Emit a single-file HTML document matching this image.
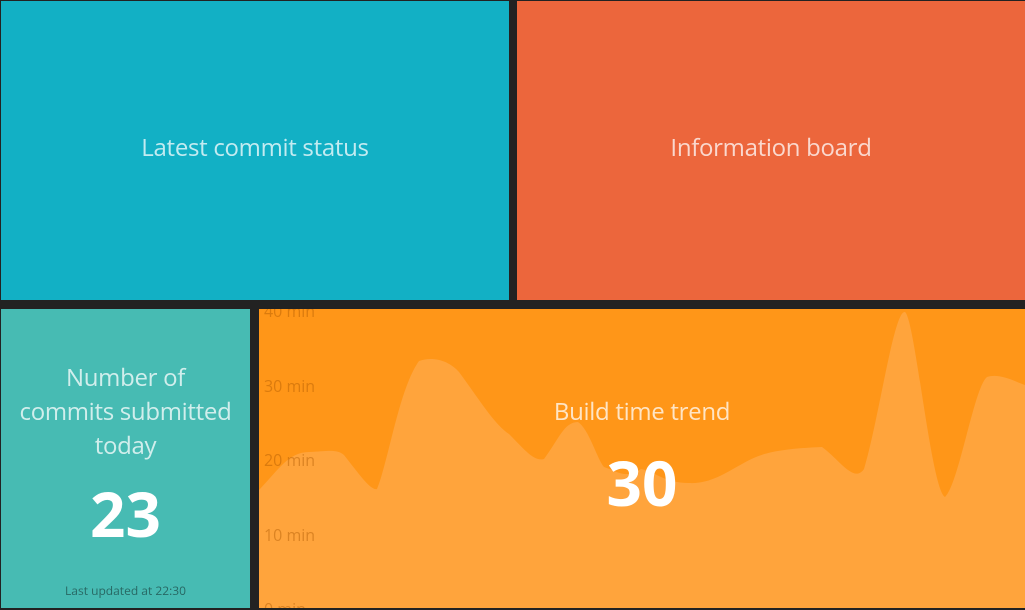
<!DOCTYPE html>
<html><head><meta charset="utf-8"><style>
body{margin:0;width:1025px;height:610px;background:#222;position:relative;overflow:hidden;font-family:"Open Sans","DejaVu Sans","Liberation Sans",sans-serif}
.t{position:absolute;text-align:center;color:rgba(255,255,255,0.75)}
</style></head><body>
<div class="t" style="left:1px;top:1px;width:508px;height:299px;background:#12b0c5;">
<div style="position:absolute;top:130px;width:100%;font-size:24px;letter-spacing:-0.3px;">Latest commit status</div></div>
<div class="t" style="left:517px;top:1px;width:508px;height:299px;background:#ec663c;">
<div style="position:absolute;top:130px;width:100%;font-size:24px;letter-spacing:-0.3px;">Information board</div></div>
<div class="t" style="left:1px;top:309px;width:249px;height:299px;background:#47bbb3;">
<div style="position:absolute;top:52px;width:100%;font-size:24px;line-height:34px;letter-spacing:-0.3px;">Number of<br>commits submitted<br>today</div>
<div style="position:absolute;top:163px;width:100%;font-size:62px;font-weight:bold;color:#fff;">23</div>
<div style="position:absolute;top:273px;width:100%;font-size:12px;color:rgba(0,0,0,0.45);">Last updated at 22:30</div></div>
<div style="position:absolute;left:259px;top:309px;width:766px;height:299px;background:#ff9618;overflow:hidden;">
<svg width="766" height="299" style="position:absolute;left:0;top:0">
<path fill="#ffa43c" d="M0,181 C20,160 30,143 50,143 C70,142 78,140 85,146 C100,165 112,182 118,180 C130,150 140,80 160,52 C175,47 190,52 200,63 C220,90 235,115 250,125 C265,140 275,153 285,150 C300,130 305,113 319,113 C330,120 338,150 345,158 C360,163 365,170 382,160 C395,162 405,174 430,174 C450,175 465,165 483,155 C500,145 515,140 563,138 C580,150 595,175 605,160 C620,110 635,0 646,3 C656,10 672,180 686,188 C700,175 715,78 728,68 C740,64 755,72 766,76 L766,299 L0,299 Z"/>
<g fill="rgba(170,85,0,0.42)" font-size="16">
<text x="5" y="8">40 min</text><text x="5" y="83">30 min</text><text x="5" y="157">20 min</text><text x="5" y="232">10 min</text><text x="5" y="306">0 min</text></g>
</svg>
<div class="t" style="left:0;top:86px;width:766px;font-size:24px;letter-spacing:-0.3px;">Build time trend</div>
<div class="t" style="left:0;top:132px;width:766px;font-size:62px;font-weight:bold;color:#fff;">30</div>
</div>
</body></html>
